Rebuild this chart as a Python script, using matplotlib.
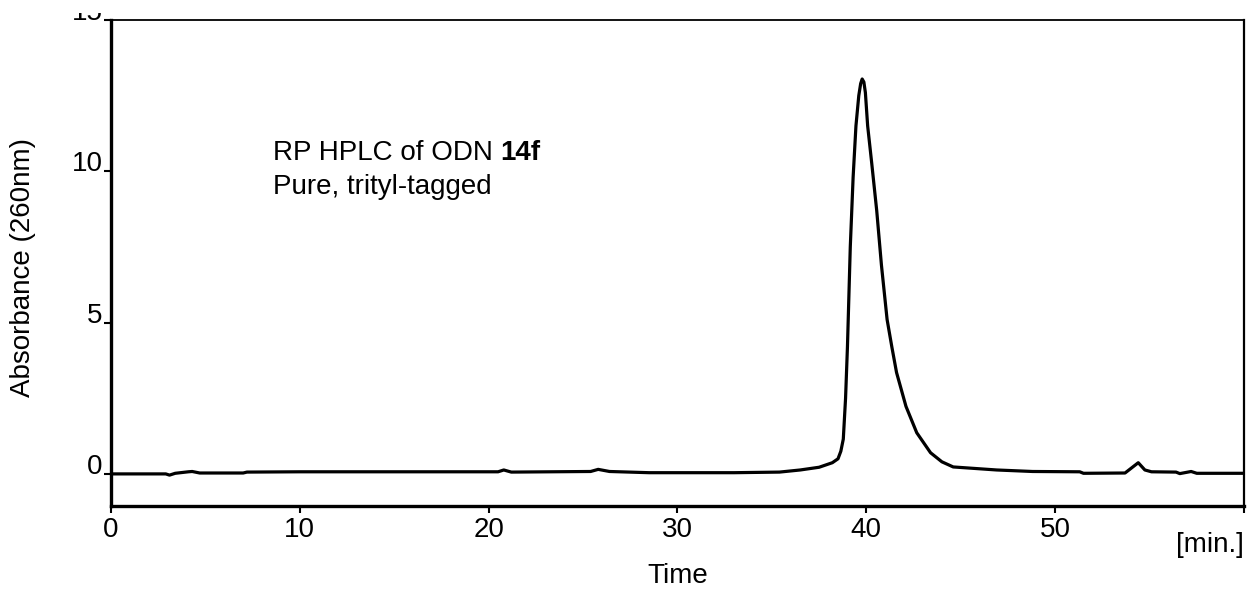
import matplotlib
matplotlib.use("Agg")
import matplotlib.pyplot as plt
from matplotlib.transforms import Bbox, TransformedBbox

plt.rcParams['font.family'] = ['Liberation Sans', 'DejaVu Sans']

# -------------------------------
# Datos leídos del cromatograma
# -------------------------------

tiempo = [0, 2.9, 3.1, 3.4, 4.1, 4.3, 4.7, 7.0, 7.2, 10, 15, 20.5, 20.8,
          21.2, 25.4, 25.8, 26.4, 28.5, 33, 35.4, 36.5, 37.5, 38.2, 38.5,
          38.65, 38.78, 38.9, 39.0, 39.15, 39.3, 39.45, 39.6, 39.7, 39.78,
          39.87, 39.95, 40.07, 40.28, 40.55, 40.8, 41.1, 41.35, 41.6, 42.1,
          42.67, 43.4, 44.0, 44.6, 46.9, 48.8, 51.3, 51.5, 53.7, 54.05,
          54.4, 54.75, 55.1, 56.4, 56.6, 57.2, 57.5, 60]

absorbancia = [0.0, 0.0, -0.04, 0.02, 0.07, 0.08, 0.03, 0.03, 0.06, 0.07,
               0.07, 0.07, 0.13, 0.06, 0.08, 0.15, 0.08, 0.04, 0.04, 0.06,
               0.13, 0.22, 0.37, 0.5, 0.75, 1.15, 2.5, 4.2, 7.5, 9.8, 11.5,
               12.5, 12.9, 13.05, 12.95, 12.6, 11.5, 10.3, 8.7, 6.9, 5.1, 4.2,
               3.35, 2.23, 1.36, 0.7, 0.4, 0.23, 0.13, 0.08, 0.07, 0.02, 0.03,
               0.2, 0.37, 0.13, 0.07, 0.06, 0.01, 0.08, 0.02, 0.02]

xticks = [0, 10, 20, 30, 40, 50, 60]
xtick_labels = ['0', '10', '20', '30', '40', '50', '']
yticks = [0, 5, 10, 15]
ytick_labels = ['0', '5', '10', '15']

# -------------------------------
# Gráfica
# -------------------------------

fs = 20

fig = plt.figure(figsize=(12.47, 5.92), dpi=100)
ax = fig.add_axes([0.089, 0.1453, 0.9086, 0.8209])

ax.plot(tiempo, absorbancia, color='black', linewidth=2.3,
        solid_joinstyle='round', solid_capstyle='round')

ax.set_xlim(0, 60)
ax.set_ylim(-1.06, 15)

ax.set_xticks(xticks)
ax.set_xticklabels(xtick_labels)
ax.set_yticks(yticks)
ax.set_yticklabels(ytick_labels)
ax.tick_params(axis='both', labelsize=fs, length=5, width=1.5,
               direction='out', color='black')
ax.tick_params(axis='x', pad=3)
ax.tick_params(axis='y', pad=1)
for lbl in ax.get_yticklabels():
    lbl.set_verticalalignment('baseline')

ax.spines['left'].set_linewidth(2.4)
ax.spines['bottom'].set_linewidth(2.4)
ax.spines['top'].set_linewidth(1.3)
ax.spines['right'].set_linewidth(1.6)

ax.set_xlabel('Time', fontsize=fs)
ax.xaxis.set_label_coords(0.5, -0.117)
ax.set_ylabel('Absorbance (260nm)', fontsize=fs)
ax.yaxis.set_label_coords(-0.066, 0.49)

ax.text(1.0, -0.0947, '[min.]', transform=ax.transAxes, ha='right',
        va='baseline', fontsize=fs)

# Anotación en dos líneas
t1 = ax.text(8.58, 10.36, 'RP HPLC of ODN ', fontsize=fs, va='baseline',
             ha='left')
ax.annotate('14f', xy=(1, 0), xycoords=t1, va='bottom', ha='left',
            fontsize=fs, fontweight='bold')
ax.text(8.58, 9.26, 'Pure, trityl-tagged', fontsize=fs, va='baseline',
        ha='left')

# La etiqueta "15" aparece recortada en el borde superior
clip = TransformedBbox(Bbox([[0, 0], [1, 1 - 13 / 592]]), fig.transFigure)
for lbl in ax.get_yticklabels():
    lbl.set_clip_box(clip)
    lbl.set_clip_on(True)

fig.savefig('out.png', dpi=100)
